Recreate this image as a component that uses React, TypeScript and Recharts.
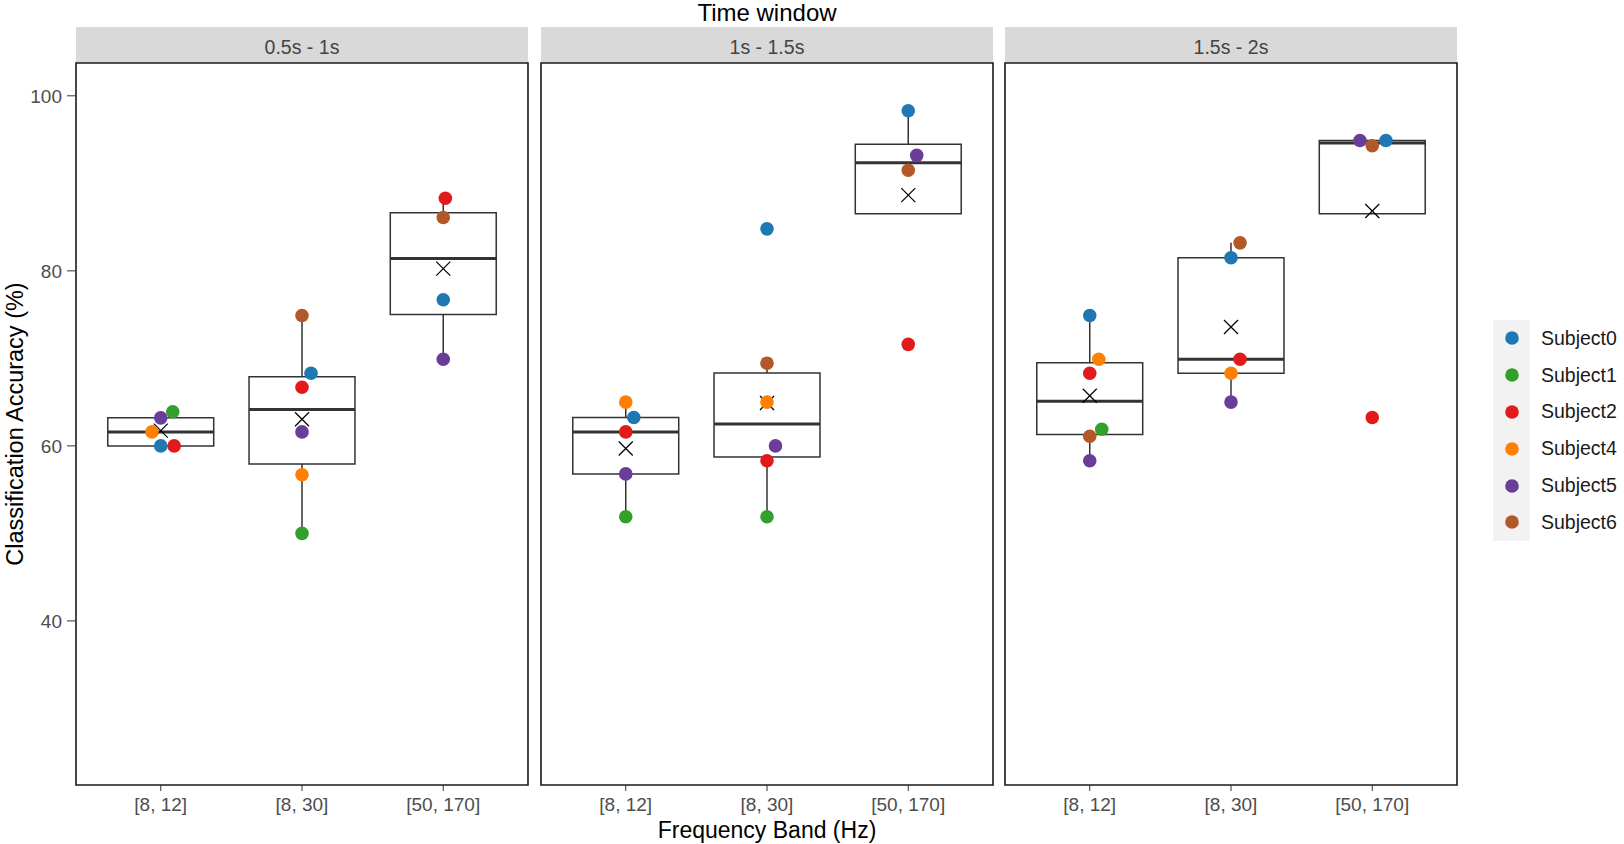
import { ScatterChart, Scatter, XAxis, YAxis, ReferenceArea, ReferenceLine, Legend } from 'recharts';

const bands = ['[8, 12]', '[8, 30]', '[50, 170]'];
const timeWindows = ['0.5s - 1s', '1s - 1.5s', '1.5s - 2s'];
const subjects = ['Subject0', 'Subject1', 'Subject2', 'Subject4', 'Subject5', 'Subject6'];
const subjectColors = ['#1F78B4', '#33A02C', '#E31A1C', '#FF7F00', '#6A3D9A', '#B15928'];

// accuracy (%) per subject, ordered window by window: [8,12], [8,30], [50,170] ...
// null = no point for that subject in that cell
const subject0 = [60.0, 68.3, 76.7, 63.25, 84.8, 98.3, 74.9, 81.5, 94.9];
const subject1 = [63.9, 50.0, null, 51.9, 51.9, null, 61.9, null, null];
const subject2 = [60.0, 66.7, 88.3, 61.6, 58.3, 71.6, 68.3, 69.9, 63.25];
const subject4 = [61.6, 56.7, null, 65.0, 65.0, null, 69.9, 68.3, null];
const subject5 = [63.2, 61.6, 69.9, 56.8, 60.0, 93.2, 58.3, 65.0, 94.9];
const subject6 = [null, 74.9, 86.1, null, 69.45, 91.5, 61.1, 83.2, 94.3];

// horizontal jitter of each point, in band units
const jitter0 = [0, 0.064, 0, 0.057, 0, 0, 0, 0, 0.097];
const jitter1 = [0.085, 0, 0, 0, 0, 0, 0.085, 0, 0];
const jitter2 = [0.095, 0, 0.015, 0, 0, 0, 0, 0.064, 0];
const jitter4 = [-0.062, 0, 0, 0, 0, 0, 0.064, 0, 0];
const jitter5 = [0, 0, 0, 0, 0.06, 0.06, 0, 0, -0.087];
const jitter6 = [0, 0, 0, 0, 0, 0, 0, 0.064, 0];

const yTicks = [40, 60, 80, 100];

const accuracy = [subject0, subject1, subject2, subject4, subject5, subject6];
const jitters = [jitter0, jitter1, jitter2, jitter4, jitter5, jitter6];

const FONT = '"Liberation Sans", Arial, Helvetica, sans-serif';
const Y_DOMAIN: [number, number] = [21.25, 103.75];
const X_DOMAIN: [number, number] = [0.4, 3.6];
const BOX_HALF = 0.375;
const CHART_H = 844;
const PANEL_TOP = 63;
const PANEL_BOTTOM = 785;
const PANEL_W = 452;
const X_AXIS_H = 50;
const panelLefts = [76, 541, 1005];
const LINE = '#333333';

function quantile(sorted: number[], p: number) {
  const h = (sorted.length - 1) * p;
  const lo = Math.floor(h);
  const hi = Math.min(lo + 1, sorted.length - 1);
  return sorted[lo] + (h - lo) * (sorted[hi] - sorted[lo]);
}

function boxStats(values: number[]) {
  const s = [...values].sort((a, b) => a - b);
  const q1 = quantile(s, 0.25);
  const med = quantile(s, 0.5);
  const q3 = quantile(s, 0.75);
  const iqr = q3 - q1;
  const lowWhisker = Math.min(...s.filter((v) => v >= q1 - 1.5 * iqr));
  const highWhisker = Math.max(...s.filter((v) => v <= q3 + 1.5 * iqr));
  const mean = s.reduce((a, b) => a + b, 0) / s.length;
  return { q1, med, q3, lowWhisker, highWhisker, mean };
}

function cellValues(w: number, b: number) {
  return accuracy.map((s) => s[w * 3 + b]).filter((v): v is number => v != null);
}

function subjectPoints(i: number, w: number) {
  return bands
    .map((_, b) => ({ x: b + 1 + jitters[i][w * 3 + b], y: accuracy[i][w * 3 + b] }))
    .filter((p) => p.y != null);
}

const MeanCross = (p: any) => {
  const d = 7;
  return (
    <g stroke="#000" strokeWidth={1.3}>
      <line x1={p.cx - d} y1={p.cy - d} x2={p.cx + d} y2={p.cy + d} />
      <line x1={p.cx - d} y1={p.cy + d} x2={p.cx + d} y2={p.cy - d} />
    </g>
  );
};

const renderLegend = (props: any) => (
  <div style={{ fontFamily: FONT }}>
    {(props.payload || [])
      .filter((e: any) => e.type !== 'none')
      .map((e: any) => (
        <div key={e.value} style={{ display: 'flex', alignItems: 'center', height: 36.8 }}>
          <div
            style={{
              width: 37,
              height: '100%',
              background: '#f2f2f2',
              display: 'flex',
              alignItems: 'center',
              justifyContent: 'center',
            }}
          >
            <svg width={14} height={14}>
              <circle cx={7} cy={7} r={6.8} fill={e.color} />
            </svg>
          </div>
          <span style={{ marginLeft: 11, fontSize: 19.5, color: '#1a1a1a' }}>{e.value}</span>
        </div>
      ))}
  </div>
);

function Panel({ w }: { w: number }) {
  const first = w === 0;
  const last = w === timeWindows.length - 1;
  const yAxisW = first ? 76 : 0;
  const padL = first ? 0 : 2;
  const padR = last ? 167 : 2;
  const width = yAxisW + padL + PANEL_W + padR;
  const left = panelLefts[w] - yAxisW - padL;
  const stats = bands.map((_, b) => boxStats(cellValues(w, b)));
  const means = stats.map((s, b) => ({ x: b + 1, y: s.mean }));

  return (
    <div style={{ position: 'absolute', left, top: 0 }}>
      <div
        style={{
          position: 'absolute',
          left: yAxisW + padL,
          top: 27,
          width: PANEL_W,
          height: PANEL_TOP - 27,
          background: '#d9d9d9',
          color: '#444',
          fontSize: 19.5,
          lineHeight: `${PANEL_TOP - 27 + 5}px`,
          textAlign: 'center',
        }}
      >
        {timeWindows[w]}
      </div>
      <ScatterChart
        width={width}
        height={CHART_H}
        margin={{ top: PANEL_TOP, right: padR, bottom: CHART_H - PANEL_BOTTOM - X_AXIS_H, left: padL }}
      >
        <XAxis
          type="number"
          dataKey="x"
          domain={X_DOMAIN}
          ticks={[1, 2, 3]}
          interval={0}
          allowDataOverflow
          tickFormatter={(v: number) => bands[Math.round(v) - 1]}
          height={X_AXIS_H}
          axisLine={false}
          stroke={LINE}
          tickSize={6}
          tickMargin={7}
          tick={{ fill: '#4d4d4d', fontSize: 19 }}
        />
        <YAxis
          type="number"
          dataKey="y"
          domain={Y_DOMAIN}
          ticks={yTicks}
          allowDataOverflow
          hide={!first}
          width={yAxisW}
          axisLine={false}
          stroke={LINE}
          tickSize={9}
          tickMargin={5}
          tick={{ fill: '#4d4d4d', fontSize: 19 }}
        />
        <ReferenceArea
          x1={X_DOMAIN[0]}
          x2={X_DOMAIN[1]}
          y1={Y_DOMAIN[0]}
          y2={Y_DOMAIN[1]}
          fill="none"
          fillOpacity={0}
          stroke="#1a1a1a"
          strokeWidth={1.6}
          ifOverflow="visible"
        />
        {stats.map((s, b) => (
          <ReferenceArea
            key={`box${b}`}
            x1={b + 1 - BOX_HALF}
            x2={b + 1 + BOX_HALF}
            y1={s.q1}
            y2={s.q3}
            fill="none"
            fillOpacity={0}
            stroke={LINE}
            strokeWidth={1.5}
          />
        ))}
        {stats.map((s, b) => (
          <ReferenceLine
            key={`med${b}`}
            segment={[
              { x: b + 1 - BOX_HALF, y: s.med },
              { x: b + 1 + BOX_HALF, y: s.med },
            ]}
            stroke={LINE}
            strokeWidth={3}
          />
        ))}
        {stats
          .filter((s) => s.highWhisker > s.q3)
          .map((s) => (
            <ReferenceLine
              key={`hi${s.q3}`}
              segment={[
                { x: stats.indexOf(s) + 1, y: s.q3 },
                { x: stats.indexOf(s) + 1, y: s.highWhisker },
              ]}
              stroke={LINE}
              strokeWidth={1.5}
            />
          ))}
        {stats
          .filter((s) => s.lowWhisker < s.q1)
          .map((s) => (
            <ReferenceLine
              key={`lo${s.q1}`}
              segment={[
                { x: stats.indexOf(s) + 1, y: s.q1 },
                { x: stats.indexOf(s) + 1, y: s.lowWhisker },
              ]}
              stroke={LINE}
              strokeWidth={1.5}
            />
          ))}
        <Scatter name="mean" data={means} shape={MeanCross} legendType="none" isAnimationActive={false} />
        {subjects.map((name, i) => (
          <Scatter
            key={name}
            name={name}
            data={subjectPoints(i, w)}
            fill={subjectColors[i]}
            isAnimationActive={false}
            shape={(p: any) => <circle cx={p.cx} cy={p.cy} r={6.8} fill={subjectColors[i]} />}
          />
        ))}
        {last && (
          <Legend
            layout="vertical"
            align="center"
            verticalAlign="middle"
            content={renderLegend}
            wrapperStyle={{ left: 490, top: 320, width: 129 }}
          />
        )}
      </ScatterChart>
    </div>
  );
}

export default function App() {
  return (
    <div
      style={{
        position: 'absolute',
        left: 0,
        top: 0,
        width: 1624,
        height: CHART_H,
        background: '#fff',
        fontFamily: FONT,
        overflow: 'hidden',
      }}
    >
      <div
        style={{
          position: 'absolute',
          left: 567,
          top: 0,
          width: 400,
          textAlign: 'center',
          fontSize: 24,
          lineHeight: '25px',
          color: '#000',
        }}
      >
        Time window
      </div>
      {timeWindows.map((_, w) => (
        <Panel key={w} w={w} />
      ))}
      <div
        style={{
          position: 'absolute',
          left: 15 - 200,
          top: 424 - 13,
          width: 400,
          textAlign: 'center',
          fontSize: 23.5,
          lineHeight: '26px',
          color: '#000',
          transform: 'rotate(-90deg)',
        }}
      >
        Classification Accuracy (%)
      </div>
      <div
        style={{
          position: 'absolute',
          left: 567,
          top: 818,
          width: 400,
          textAlign: 'center',
          fontSize: 23,
          lineHeight: '25px',
          color: '#000',
        }}
      >
        Frequency Band (Hz)
      </div>
    </div>
  );
}
